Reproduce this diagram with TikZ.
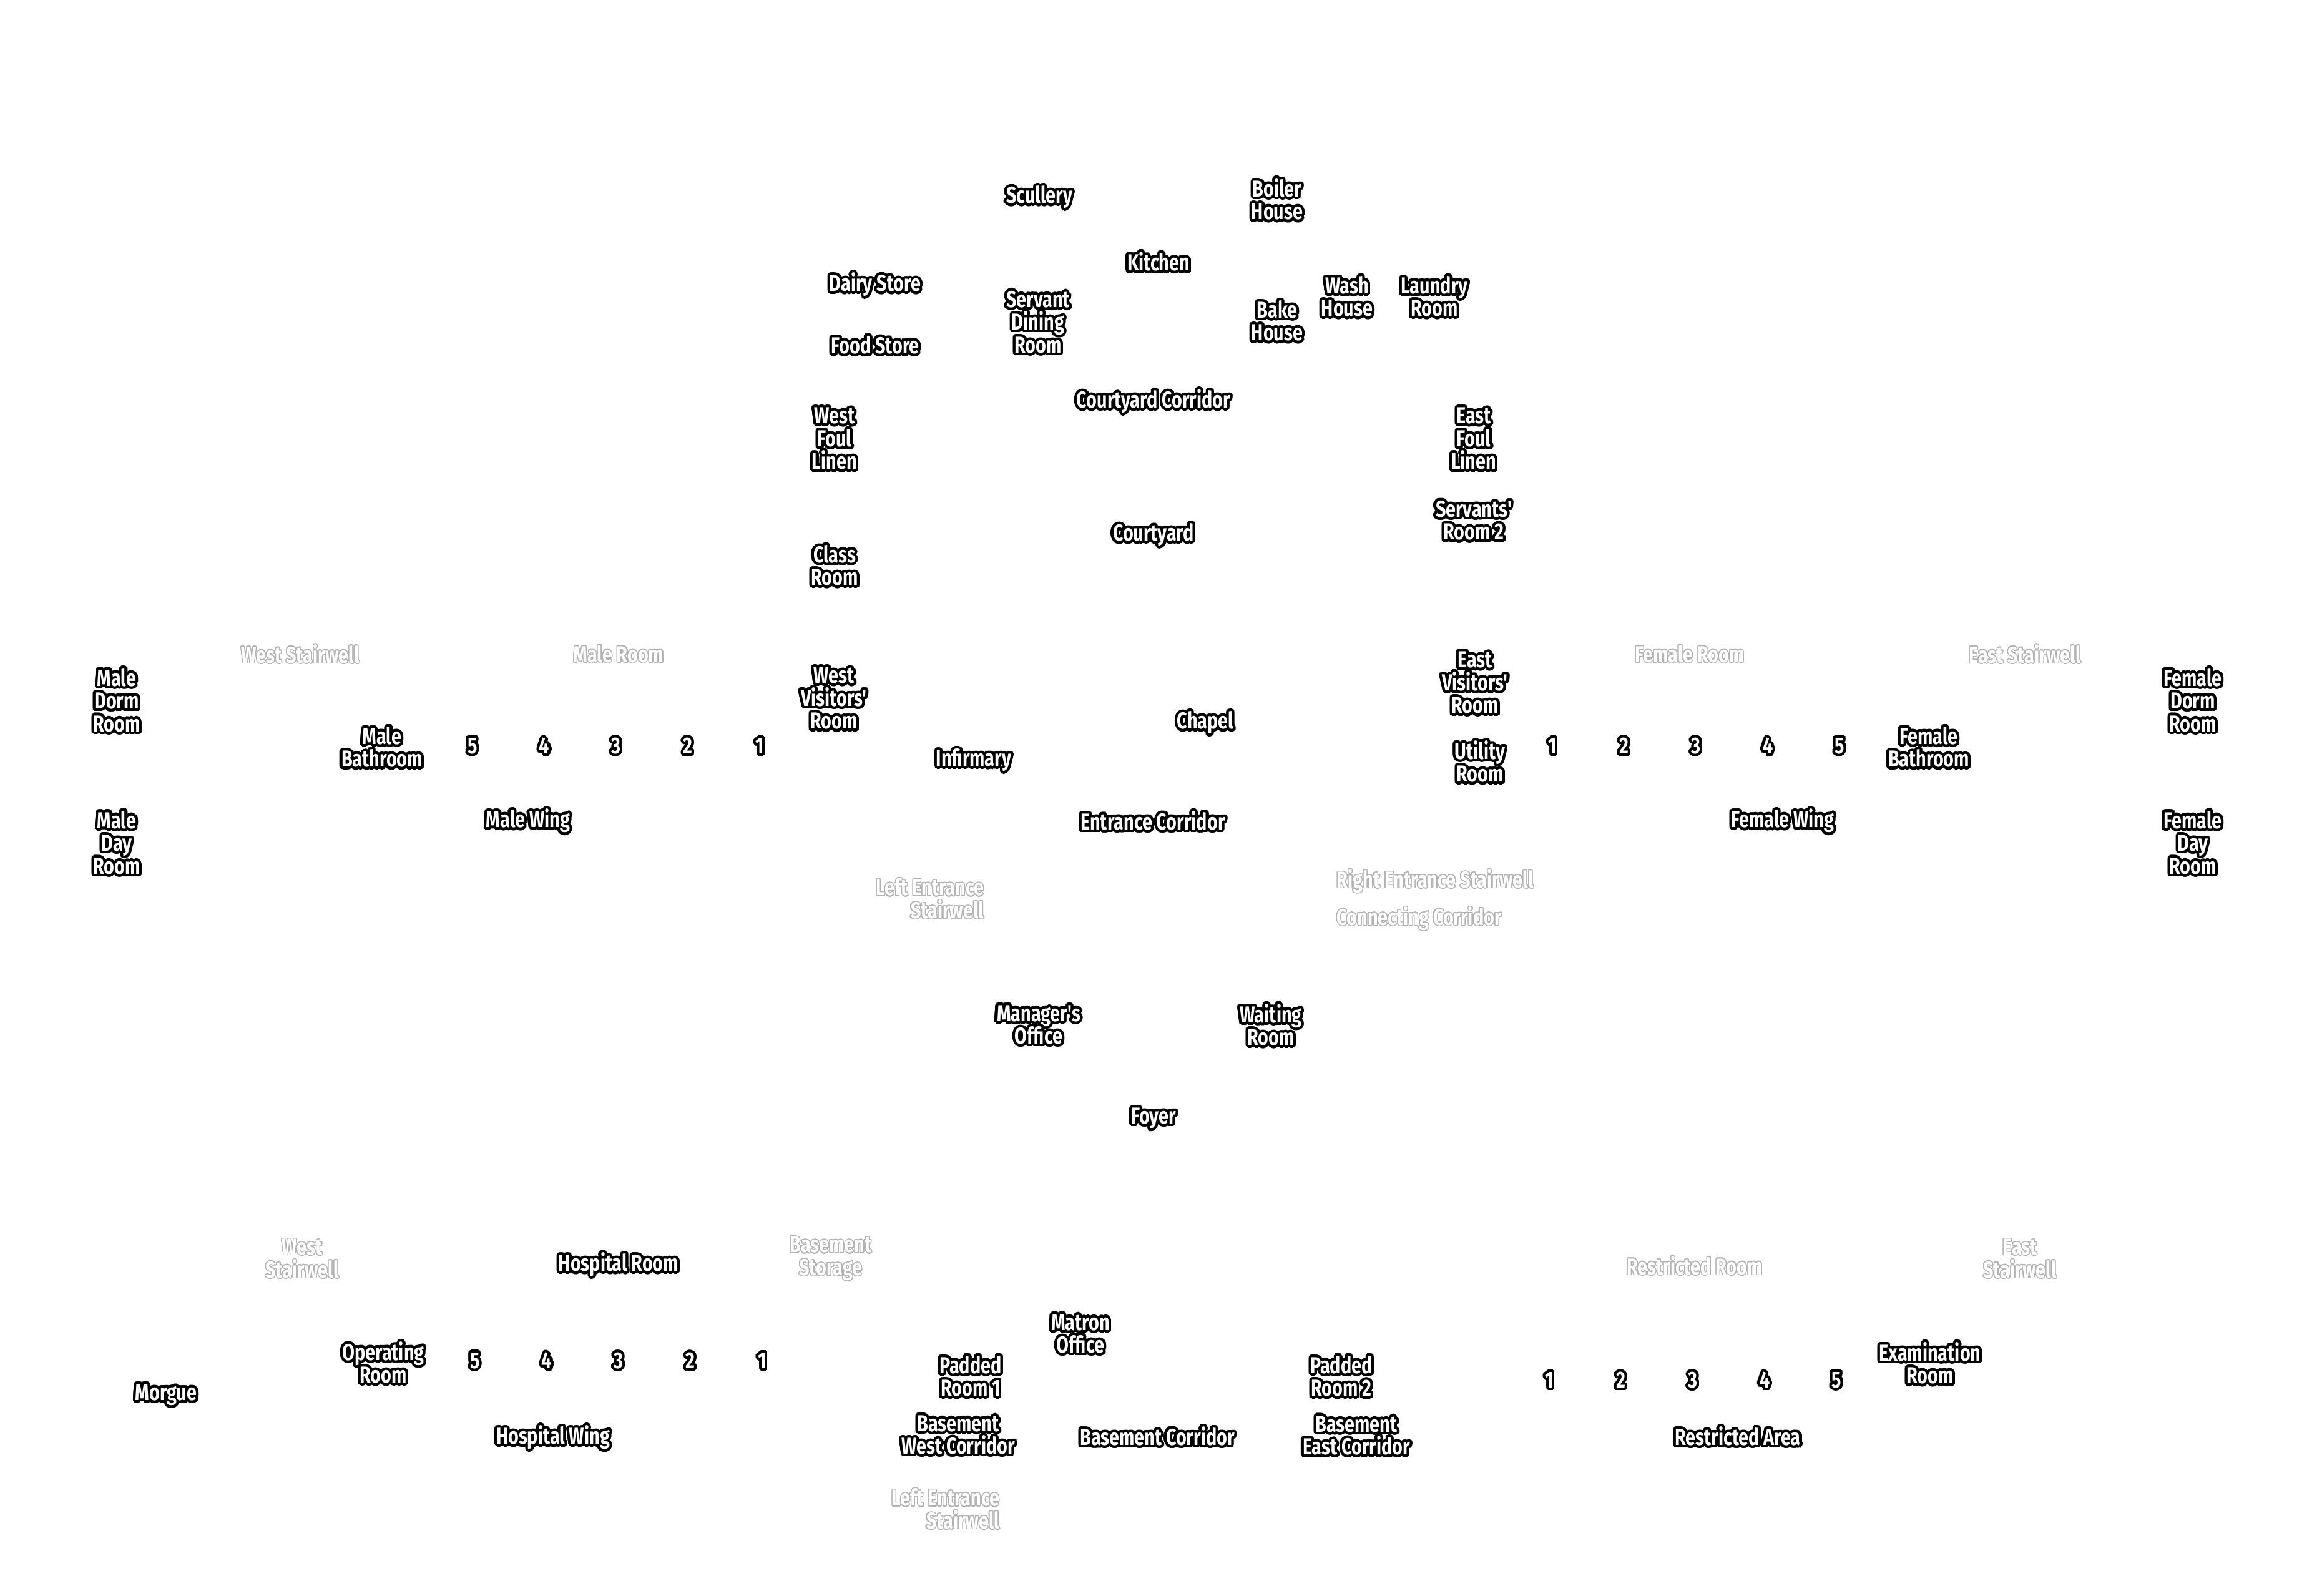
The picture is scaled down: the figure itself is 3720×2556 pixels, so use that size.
\documentclass[tikz,border=0pt]{standalone}
\usepackage{fontspec}
\usepackage{contour}
\usetikzlibrary{positioning}

\newfontfamily\mapfont{Fira Sans}[FakeStretch=0.78]
\newcommand\mapset{\mapfont\bfseries\fontsize{10.5}{10.4}\selectfont\lineskiplimit=-6pt\relax}
\contourlength{1.2pt}
\contournumber{24}
\newcommand\rl[1]{\contour{black}{#1}}
\newcommand\gl[1]{{\contourlength{0.35pt}\contour{black!30}{#1}}}

\begin{document}
\begin{tikzpicture}[x=0.01cm, y=-0.01cm,
    every node/.style={align=center, text=white, inner sep=0pt, font=\mapset},
    node distance=1.15cm]
	\fill[white] (0,0) rectangle (3720,2556);

	% ground floor, kitchen block
	\node (SCUL) at (1665,318) {\rl{Scullery}};
	\node (BOIL) at (2046,321) {\rl{Boiler}\\\rl{House}};
	\node (KITC) at (1856,421) {\rl{Kitchen}};
	\node (DAIR) at (1402,458) {\rl{Dairy Store}};
	\node (SDIN) at (1663,518) {\rl{Servant}\\\rl{Dining}\\\rl{Room}};
	\node (BAKE) at (2046,516) {\rl{Bake}\\\rl{House}};
	\node (WASH) at (2158,477) {\rl{Wash}\\\rl{House}};
	\node (LAUN) at (2298,477) {\rl{Laundry}\\\rl{Room}};
	\node (FOOD) at (1402,555) {\rl{Food Store}};
	\node (CCOR) at (1848,645) {\rl{Courtyard Corridor}};
	\node (WFL) at (1337,705) {\rl{West}\\\rl{Foul}\\\rl{Linen}};
	\node (EFL) at (2361,705) {\rl{East}\\\rl{Foul}\\\rl{Linen}};
	\node (SR2) at (2361,836) {\rl{Servants'}\\\rl{Room 2}};
	\node (CY) at (1848,859) {\rl{Courtyard}};
	\node (CLAS) at (1337,908) {\rl{Class}\\\rl{Room}};

	% wings
	\node (WSTW) at (481,1048) {\gl{West Stairwell}};
	\node (MROOM) at (991,1048) {\gl{Male Room}};
	\node (FROOM) at (2707,1048) {\gl{Female Room}};
	\node (ESTW) at (3244,1048) {\gl{East Stairwell}};
	\node (MDORM) at (187,1124) {\rl{Male}\\\rl{Dorm}\\\rl{Room}};
	\node (WVIS) at (1336,1121) {\rl{West}\\\rl{Visitors'}\\\rl{Room}};
	\node (EVIS) at (2363,1096) {\rl{East}\\\rl{Visitors'}\\\rl{Room}};
	\node (FDORM) at (3513,1124) {\rl{Female}\\\rl{Dorm}\\\rl{Room}};
	\node (CHAP) at (1931,1160) {\rl{Chapel}};
	\node (MBATH) at (612,1199) {\rl{Male}\\\rl{Bathroom}};
	\node (M5) at (757,1197) {\rl{5}};
	\node[right of=M5] (M4) {\rl{4}};
	\node[right of=M4] (M3) {\rl{3}};
	\node[right of=M3] (M2) {\rl{2}};
	\node[right of=M2] (M1) {\rl{1}};
	\node (INF) at (1560,1220) {\rl{Infirmary}};
	\node (UTIL) at (2371,1222) {\rl{Utility}\\\rl{Room}};
	\node (F1) at (2487,1197) {\rl{1}};
	\node[right of=F1] (F2) {\rl{2}};
	\node[right of=F2] (F3) {\rl{3}};
	\node[right of=F3] (F4) {\rl{4}};
	\node[right of=F4] (F5) {\rl{5}};
	\node (FBATH) at (3090,1199) {\rl{Female}\\\rl{Bathroom}};
	\node (MWING) at (846,1317) {\rl{Male Wing}};
	\node (ECOR) at (1847,1317) {\rl{Entrance Corridor}};
	\node (FWING) at (2856,1317) {\rl{Female Wing}};
	\node (MDAY) at (187,1352) {\rl{Male}\\\rl{Day}\\\rl{Room}};
	\node (FDAY) at (3513,1352) {\rl{Female}\\\rl{Day}\\\rl{Room}};

	% entrance
	\node[anchor=east, align=right] (LES) at (1577,1440) {\gl{Left Entrance}\\\gl{Stairwell}};
	\node[anchor=west] (RES) at (2141,1412) {\gl{Right Entrance Stairwell}};
	\node[anchor=west] (CONN) at (2141,1472) {\gl{Connecting Corridor}};
	\node (MGR) at (1664,1644) {\rl{Manager's}\\\rl{Office}};
	\node (WAIT) at (2036,1644) {\rl{Waiting}\\\rl{Room}};
	\node (FOY) at (1848,1794) {\rl{Foyer}};

	% basement
	\node (BWSTW) at (484,2017) {\gl{West}\\\gl{Stairwell}};
	\node (HROOM) at (991,2028) {\rl{Hospital Room}};
	\node (BSTOR) at (1331,2017) {\gl{Basement}\\\gl{Storage}};
	\node (RROOM) at (2715,2028) {\gl{Restricted Room}};
	\node (BESTW) at (3236,2017) {\gl{East}\\\gl{Stairwell}};
	\node (MATR) at (1731,2139) {\rl{Matron}\\\rl{Office}};
	\node (OPER) at (614,2185) {\rl{Operating}\\\rl{Room}};
	\node (H5) at (761,2182) {\rl{5}};
	\node[right of=H5] (H4) {\rl{4}};
	\node[right of=H4] (H3) {\rl{3}};
	\node[right of=H3] (H2) {\rl{2}};
	\node[right of=H2] (H1) {\rl{1}};
	\node (PAD1) at (1555,2207) {\rl{Padded}\\\rl{Room 1}};
	\node (PAD2) at (2149,2207) {\rl{Padded}\\\rl{Room 2}};
	\node (R1) at (2482,2213) {\rl{1}};
	\node[right of=R1] (R2) {\rl{2}};
	\node[right of=R2] (R3) {\rl{3}};
	\node[right of=R3] (R4) {\rl{4}};
	\node[right of=R4] (R5) {\rl{5}};
	\node (EXAM) at (3092,2186) {\rl{Examination}\\\rl{Room}};
	\node (MORG) at (266,2237) {\rl{Morgue}};
	\node (HWING) at (886,2305) {\rl{Hospital Wing}};
	\node (BWCOR) at (1535,2301) {\rl{Basement}\\\rl{West Corridor}};
	\node (BCOR) at (1854,2303) {\rl{Basement Corridor}};
	\node (BECOR) at (2173,2302) {\rl{Basement}\\\rl{East Corridor}};
	\node (RAREA) at (2784,2303) {\rl{Restricted Area}};
	\node[anchor=east, align=right] (BLES) at (1602,2418) {\gl{Left Entrance}\\\gl{Stairwell}};
\end{tikzpicture}
\end{document}
